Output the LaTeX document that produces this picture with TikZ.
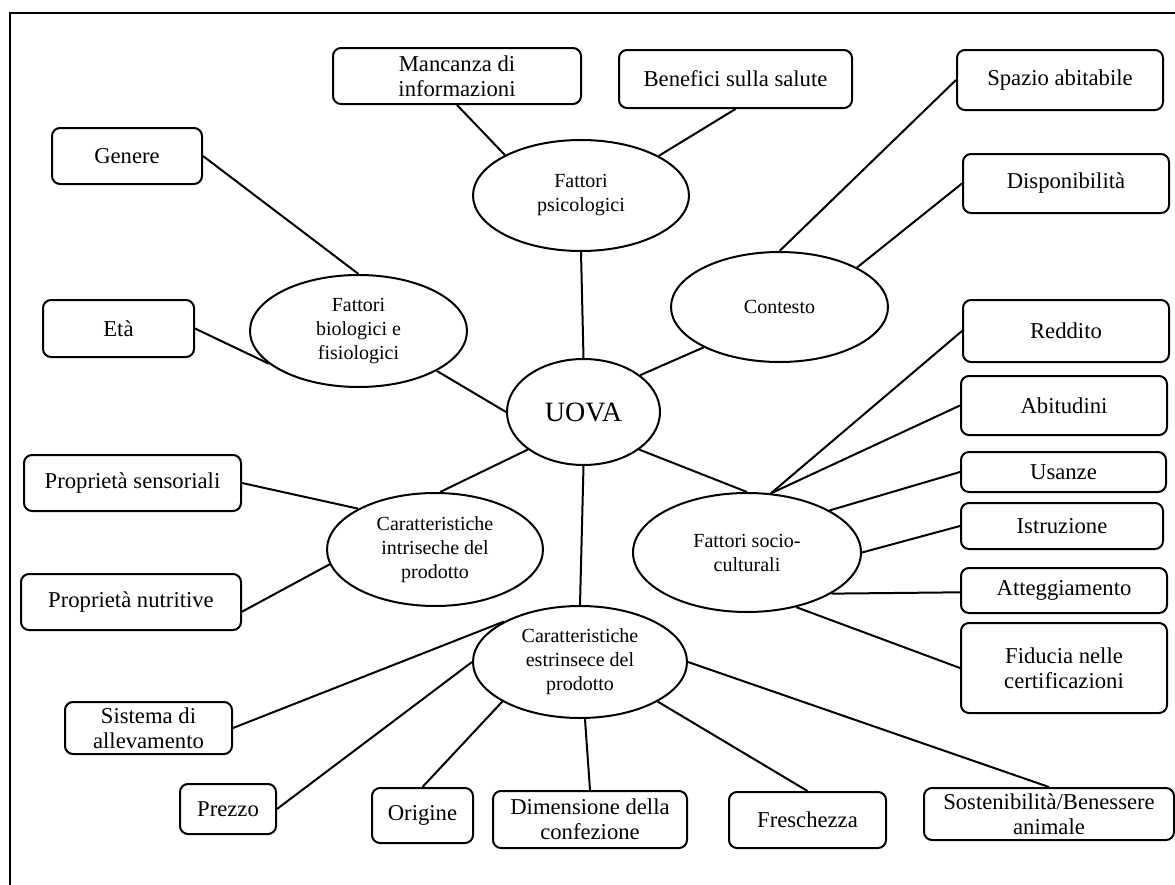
\documentclass[tikz,border=0pt]{standalone}
\usepackage{fontspec}
\setmainfont{Liberation Serif}
\usetikzlibrary{shapes.geometric}
\tikzset{
  sz/.style 2 args={minimum width=#1*0.75pt, minimum height=#2*0.75pt},
  box/.style={draw, rectangle, rounded corners=6pt, line width=1.5pt, inner sep=0pt, align=center,
    font=\fontsize{17}{19}\selectfont},
  ell/.style={draw, ellipse, line width=1.5pt, inner sep=0pt, align=center,
    font=\fontsize{15}{18}\selectfont},
  conn/.style={line width=1.5pt},
  frame/.style={line width=1.5pt}
}
\begin{document}
\begin{tikzpicture}[x=0.75pt,y=-0.75pt]
\useasboundingbox (0,0) rectangle (1175,885);
\draw[frame] (10,885) -- (10,13) -- (1175,13);

% ellipses
\node[ell, sz={216}{111}] (psi) at (581,195.5) {Fattori\\psicologici};
\node[ell, sz={217}{110}] (con) at (779.5,307) {Contesto};
\node[ell, sz={217}{112}] (bio) at (358.5,331) {Fattori\\biologici e\\fisiologici};
\node[ell, sz={153}{106}, font=\fontsize{21}{24}\selectfont] (uova) at (583.5,412) {UOVA};
\node[ell, sz={216}{113}] (int) at (435,549.5) {Caratteristiche\\intriseche del\\prodotto};
\node[ell, sz={228}{119}] (soc) at (747,552.5) {Fattori socio-\\culturali};
\node[ell, sz={214}{112}] (est) at (580,662) {Caratteristiche\\estrinsece del\\prodotto};

% boxes
\node[box, sz={248}{56}] (man) at (457,76) {Mancanza di\\informazioni};
\node[box, sz={233}{58}] (ben) at (735.5,79) {Benefici sulla salute};
\node[box, sz={206}{60}] (spa) at (1060,80) {Spazio abitabile};
\node[box, sz={206}{59}] (dis) at (1066,183.5) {Disponibilità};
\node[box, sz={150}{56}] (gen) at (127,156) {Genere};
\node[box, sz={151}{57}] (eta) at (118.5,328.5) {Età};
\node[box, sz={217}{56}] (sen) at (132.5,483) {Proprietà sensoriali};
\node[box, sz={220}{56}] (nut) at (131,602) {Proprietà nutritive};
\node[box, sz={167}{52}] (sis) at (148.5,728) {Sistema di\\allevamento};
\node[box, sz={96}{50}] (pre) at (228,809) {Prezzo};
\node[box, sz={101}{55}] (ori) at (422.5,815.5) {Origine};
\node[box, sz={194}{57}] (dim) at (590,819.5) {Dimensione della\\confezione};
\node[box, sz={157}{56}] (fre) at (807.5,820) {Freschezza};
\node[box, sz={250}{52}] (sos) at (1049,814) {Sostenibilità/Benessere\\animale};
\node[box, sz={206}{62}] (red) at (1066,331) {Reddito};
\node[box, sz={206}{59}] (abi) at (1064,405.5) {Abitudini};
\node[box, sz={205}{40}] (usa) at (1063.5,472) {Usanze};
\node[box, sz={202}{46}] (ist) at (1062,526) {Istruzione};
\node[box, sz={206}{45}] (att) at (1064,590.5) {Atteggiamento};
\node[box, sz={206}{90}] (fid) at (1064,668) {Fiducia nelle\\certificazioni};

% connectors
\draw[conn] (man.south) -- (psi.152.8);
\draw[conn] (ben.south) -- (psi.27.2);
\draw[conn] (psi.south) -- (uova.north);
\draw[conn] (gen.east) -- (bio.north);
\draw[conn] (eta.east) -- (bio.200);
\draw[conn] (bio.-27) -- (uova.west);
\draw[conn] (con.208) -- (uova.33.7);
\draw[conn] (spa.west) -- (con.north);
\draw[conn] (dis.west) -- (con.27.3);
\draw[conn] (uova.214.4) -- (int.85);
\draw[conn] (uova.-34.4) -- (soc.north);
\draw[conn] (uova.south) -- (est.north);
\draw[conn] (sen.east) -- (int.152.8);
\draw[conn] (nut.-5.7) -- (int.188.2);
\draw[conn] (red.west) -- (soc.68.5);
\draw[conn] (abi.west) -- (soc.68.5);
\draw[conn] (usa.west) -- (soc.27.1);
\draw[conn] (ist.west) -- (soc.east);
\draw[conn] (att.181) -- (soc.-26.6);
\draw[conn] (fid.west) -- (soc.-48.4);
\draw[conn] (sis.east) -- (est.152.5);
\draw[conn] (pre.east) -- (est.west);
\draw[conn] (ori.north) -- (est.207.7);
\draw[conn] (dim.north) -- (est.275);
\draw[conn] (fre.north) -- (est.-27.1);
\draw[conn] (sos.north) -- (est.east);
\end{tikzpicture}
\end{document}
